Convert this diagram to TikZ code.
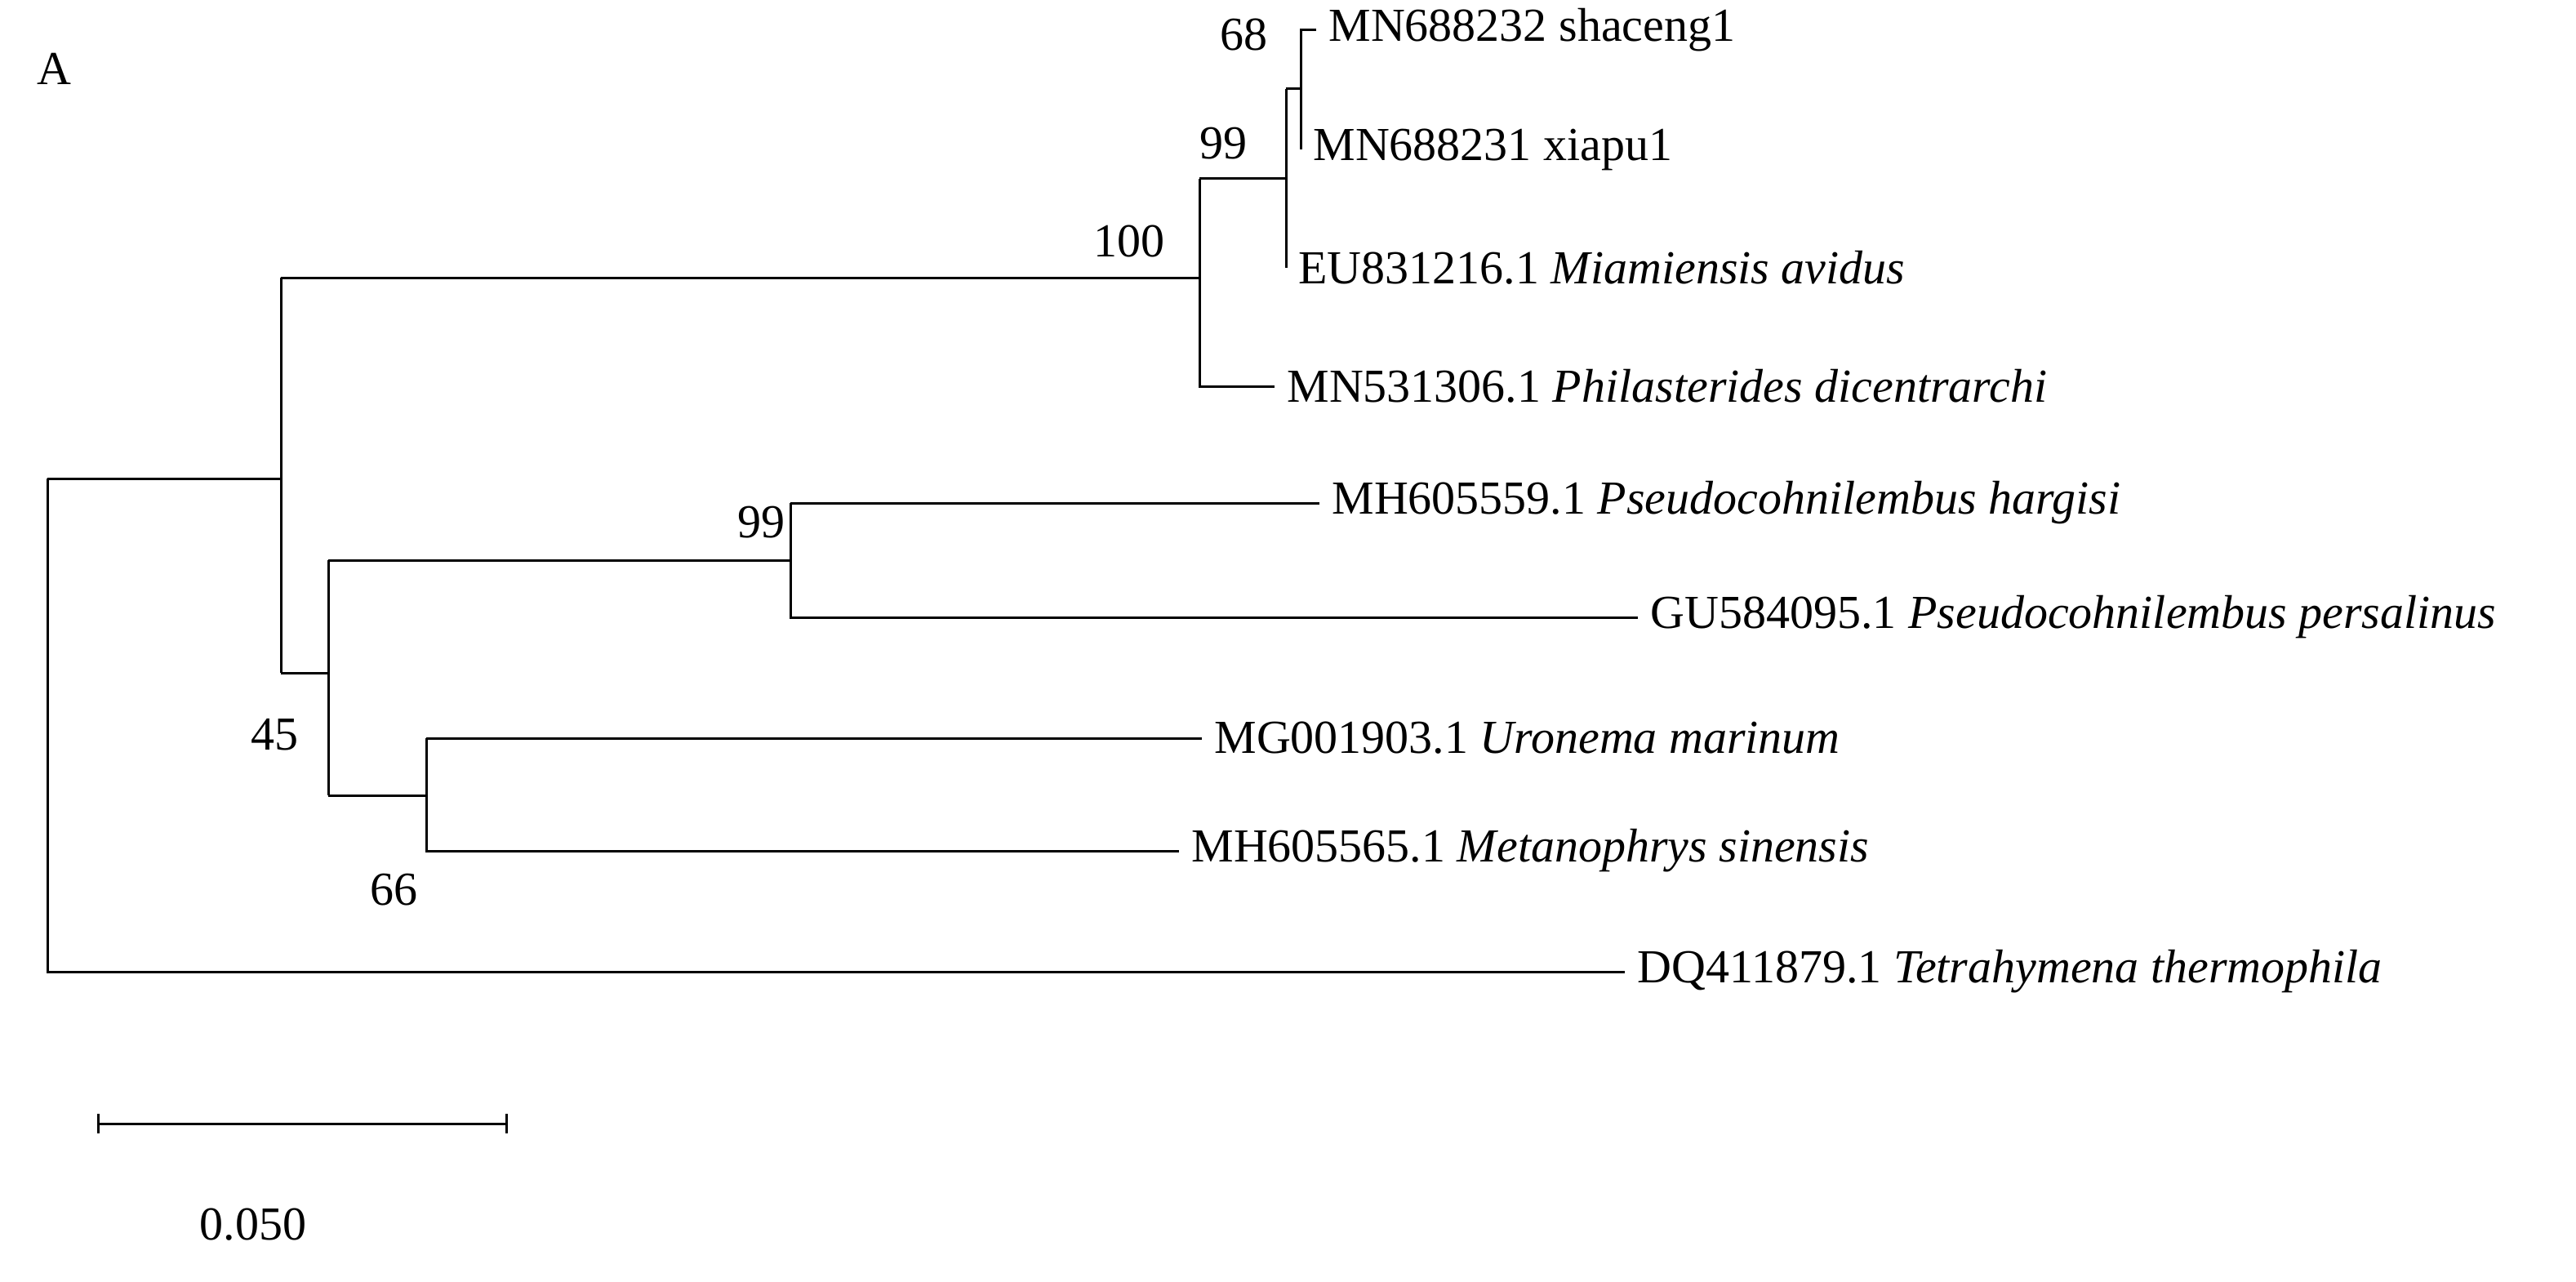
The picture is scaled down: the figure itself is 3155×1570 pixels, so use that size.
\documentclass[tikz,border=0pt]{standalone}
\usepackage{fontspec}
\setmainfont{Liberation Serif}
\begin{document}
\begin{tikzpicture}[x=1pt,y=-1pt,line width=3pt,
  lab/.style={anchor=west,inner sep=0pt,xshift=14pt,font=\fontsize{58}{70}\selectfont},
  bs/.style={inner sep=0pt,font=\fontsize{58}{70}\selectfont}]
\useasboundingbox (0,0) rectangle (3155,1570);
% coordinates
\coordinate (r) at (58,586);
\coordinate (nA) at (344,586);
\coordinate (n100) at (1469,340);
\coordinate (n99a) at (1575,219);
\coordinate (n68) at (1593,109);
\coordinate (n45) at (402,824);
\coordinate (n99b) at (968,686);
\coordinate (n66) at (522,974);
\coordinate (t1) at (1612,37);
\coordinate (t2) at (1593,183);
\coordinate (t3) at (1575,328);
\coordinate (t4) at (1561,473);
\coordinate (t5) at (1616,616);
\coordinate (t6) at (2006,756);
\coordinate (t7) at (1472,904);
\coordinate (t8) at (1444,1042);
\coordinate (t9) at (1990,1190);
% branches
\draw (r |- nA) -- (nA);
\draw (r) |- (t9);
\draw (nA |- n100) -- (nA |- n45);
\draw (nA |- n100) -- (n100);
\draw (nA |- n45) -- (n45);
\draw (n100 |- n99a) -- (n100 |- t4) -- (t4);
\draw (n100 |- n99a) -- (n99a);
\draw (n99a |- n68) -- (t3);
\draw (n99a |- n68) -- (n68);
\draw (t1) -| (t2);
\draw (n45 |- n99b) -- (n45 |- n66);
\draw (n45 |- n99b) -- (n99b);
\draw (n45 |- n66) -- (n66);
\draw (n99b |- t5) -- (t5);
\draw (n99b |- t5) -- (n99b |- t6) -- (t6);
\draw (n66 |- t7) -- (t7);
\draw (n66 |- t7) -- (n66 |- t8) -- (t8);
% tip labels
\node[lab] (l1) at (t1) {MN688232 shaceng1};
\node[lab,xshift=0pt] (l2) at (t2) {MN688231 xiapu1};
\node[lab] (l3) at (t3) {EU831216.1 \textit{Miamiensis avidus}};
\node[lab] (l4) at (t4) {MN531306.1 \textit{Philasterides dicentrarchi}};
\node[lab] (l5) at (t5) {MH605559.1 \textit{Pseudocohnilembus hargisi}};
\node[lab] (l6) at (t6) {GU584095.1 \textit{Pseudocohnilembus persalinus}};
\node[lab] (l7) at (t7) {MG001903.1 \textit{Uronema marinum}};
\node[lab] (l8) at (t8) {MH605565.1 \textit{Metanophrys sinensis}};
\node[lab] (l9) at (t9) {DQ411879.1 \textit{Tetrahymena thermophila}};
% bootstrap
\node[bs] (b68) at (1523,43) {68};
\node[bs] (b99a) at (1498,176) {99};
\node[bs] (b100) at (1383,295) {100};
\node[bs] (b99b) at (932,640) {99};
\node[bs] (b45) at (336,900) {45};
\node[bs] (b66) at (482,1090) {66};
\node[bs] (A) at (66,84) {A};
% scale bar
\coordinate (s1) at (120,1376);
\coordinate (s2) at (620,1376);
\draw (s1) -- (s2);
\draw ([yshift=-12pt]s1) -- ([yshift=12pt]s1);
\draw ([yshift=-12pt]s2) -- ([yshift=12pt]s2);
\node[bs] (sl) at (310,1500) {0.050};
\end{tikzpicture}
\end{document}
